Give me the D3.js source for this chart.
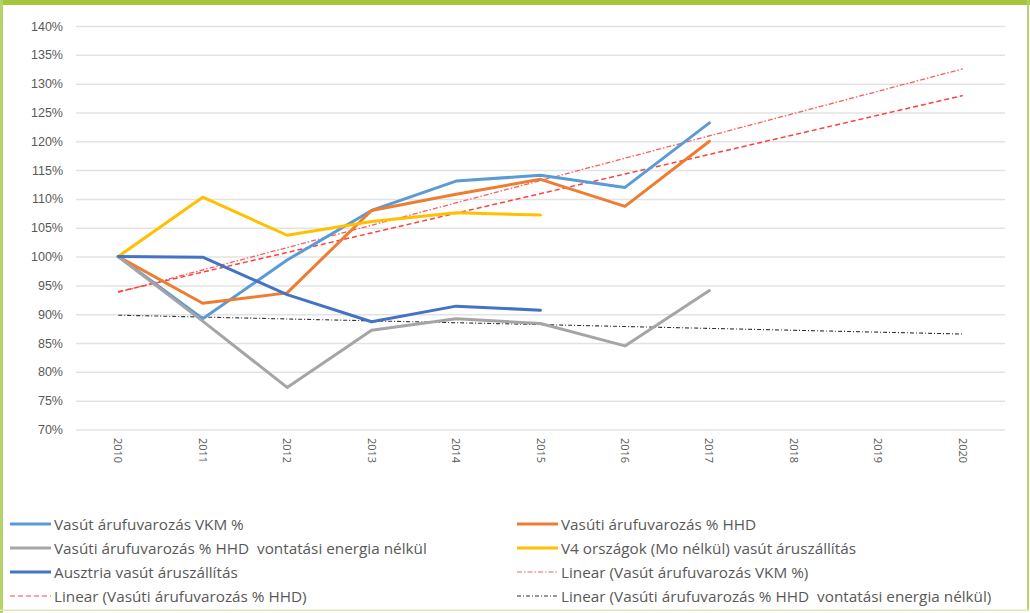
<!DOCTYPE html>
<html>
<head>
<meta charset="utf-8">
<script src="https://cdn.jsdelivr.net/npm/d3@7"></script>
<style>
  body { margin: 0; background: #fff; }
  svg { display: block; font-family: "Open Sans", "Liberation Sans", sans-serif; }
  text { white-space: pre; }
</style>
</head>
<body>
<div id="chart"></div>
<script>
'use strict';

const years = ["2010", "2011", "2012", "2013", "2014", "2015", "2016", "2017", "2018", "2019", "2020"];
const yTicks = [0.70, 0.75, 0.80, 0.85, 0.90, 0.95, 1.00, 1.05, 1.10, 1.15, 1.20, 1.25, 1.30, 1.35, 1.40];

const vkm      = [1.000, 0.892, 0.994, 1.080, 1.131, 1.141, 1.120, 1.232];
const hhd      = [1.000, 0.919, 0.937, 1.080, 1.108, 1.134, 1.087, 1.200];
const hhdNoEn  = [1.000, 0.888, 0.773, 0.872, 0.892, 0.884, 0.845, 0.941];
const v4       = [1.000, 1.103, 1.037, 1.061, 1.076, 1.072];
const austria  = [1.000, 0.999, 0.934, 0.887, 0.914, 0.907];

const msm = {
  width: 1030,
  height: 613,
  left: 76,
  right: 1005,
  top: 26,
  bottom: 429.5
};

const series = [
  { name: "Vasút árufuvarozás VKM %", values: vkm, color: "#5b9bd5" },
  { name: "Vasúti árufuvarozás % HHD", values: hhd, color: "#ed7d31" },
  { name: "Vasúti árufuvarozás % HHD  vontatási energia nélkül", values: hhdNoEn, color: "#a5a5a5" },
  { name: "V4 országok (Mo nélkül) vasút áruszállítás", values: v4, color: "#ffc000" },
  { name: "Ausztria vasút áruszállítás", values: austria, color: "#4472c4" }
];

// Excel style linear trend lines, fitted on the series and extended to 2020
const trends = [
  { name: "Linear (Vasút árufuvarozás VKM %)", values: vkm, color: "#ff5b5b", dash: "5,2,1.5,2", width: 1.3 },
  { name: "Linear (Vasúti árufuvarozás % HHD)", values: hhd, color: "#ff4040", dash: "5,3", width: 1.5 },
  { name: "Linear (Vasúti árufuvarozás % HHD  vontatási energia nélkül)", values: hhdNoEn, color: "#333333", dash: "4,2,1,2", width: 1.1 }
];

// legend order (two columns, row by row)
const legendOrder = [series[0], series[1], series[2], series[3], series[4], trends[0], trends[1], trends[2]];

function fitLine(vals) {
  let mx = d3.mean(vals, (d, i) => i);
  let my = d3.mean(vals);
  let sxy = d3.sum(vals, (d, i) => (i - mx) * (d - my));
  let sxx = d3.sum(vals, (d, i) => (i - mx) * (i - mx));
  let slope = sxy / sxx;
  return { a: my - slope * mx, b: slope };
}

let svg = d3.select('#chart')
  .append('svg')
  .attr('width', msm.width)
  .attr('height', msm.height);

// green frame
svg.append('rect').attr('x', 0).attr('y', 0).attr('width', msm.width).attr('height', 5).attr('fill', '#a3c63e');
svg.append('rect').attr('x', 0).attr('y', 0).attr('width', 3).attr('height', msm.height).attr('fill', '#b5d36a');
svg.append('rect').attr('x', 1027).attr('y', 0).attr('width', 2).attr('height', 611).attr('fill', '#b5d36a');
svg.append('rect').attr('x', 0).attr('y', 609.5).attr('width', 1029).attr('height', 1.5).attr('fill', '#d9e8b0');

let xScale = d3.scalePoint()
  .domain(years)
  .range([msm.left, msm.right])
  .padding(0.5);

let yScale = d3.scaleLinear()
  .domain([0.70, 1.40])
  .range([msm.bottom, msm.top]);

// gridlines + y labels
let yAxis = d3.axisLeft(yScale)
  .tickValues(yTicks)
  .tickFormat(d3.format(".0%"))
  .tickSize(-(msm.right - msm.left))
  .tickPadding(13);

let gy = svg.append('g')
  .attr('transform', 'translate(' + msm.left + ',0)')
  .call(yAxis);
gy.select('.domain').remove();
gy.selectAll('line').attr('stroke', '#e3e3e3').attr('stroke-width', 1.5);
gy.selectAll('text').attr('fill', '#595959').style('font-size', '12.5px');

// x labels, rotated
svg.append('g').selectAll('text')
  .data(years)
  .enter()
  .append('text')
    .attr('transform', (d) => 'translate(' + (xScale(d) - 4) + ',438) rotate(90)')
    .attr('fill', '#595959')
    .style('font-size', '11px')
    .text((d) => d);

let line = d3.line()
  .x((d, i) => xScale(years[i]))
  .y((d) => yScale(d));

// trend lines first (under the data lines where they cross)
trends.forEach((t) => {
  let f = fitLine(t.values);
  let pts = [f.a, f.a + f.b * (years.length - 1)];
  svg.append('line')
    .attr('x1', xScale(years[0]))
    .attr('x2', xScale(years[years.length - 1]))
    .attr('y1', yScale(pts[0]))
    .attr('y2', yScale(pts[1]))
    .attr('stroke', t.color)
    .attr('stroke-width', t.width)
    .attr('stroke-dasharray', t.dash);
});

series.forEach((s) => {
  svg.append('path')
    .datum(s.values)
    .attr('fill', 'none')
    .attr('stroke', s.color)
    .attr('stroke-width', 3)
    .attr('stroke-linejoin', 'round')
    .attr('stroke-linecap', 'round')
    .attr('d', line);
});

// legend
let legendX = [10, 517];
let legendY = [524, 548, 572, 596];

let lg = svg.append('g').selectAll('g')
  .data(legendOrder)
  .enter()
  .append('g')
    .attr('transform', (d, i) => 'translate(' + legendX[i % 2] + ',' + legendY[Math.floor(i / 2)] + ')');

lg.append('line')
  .attr('x1', 0).attr('x2', 41)
  .attr('y1', 0).attr('y2', 0)
  .attr('stroke', (d) => d.color)
  .attr('stroke-width', (d) => d.dash ? 1 : 3)
  .attr('stroke-dasharray', (d) => d.dash ? d.dash : null);

lg.append('text')
  .attr('x', 44)
  .attr('y', 5.5)
  .attr('fill', '#595959')
  .style('font-size', '15.3px')
  .text((d) => d.name);
</script>
</body>
</html>
